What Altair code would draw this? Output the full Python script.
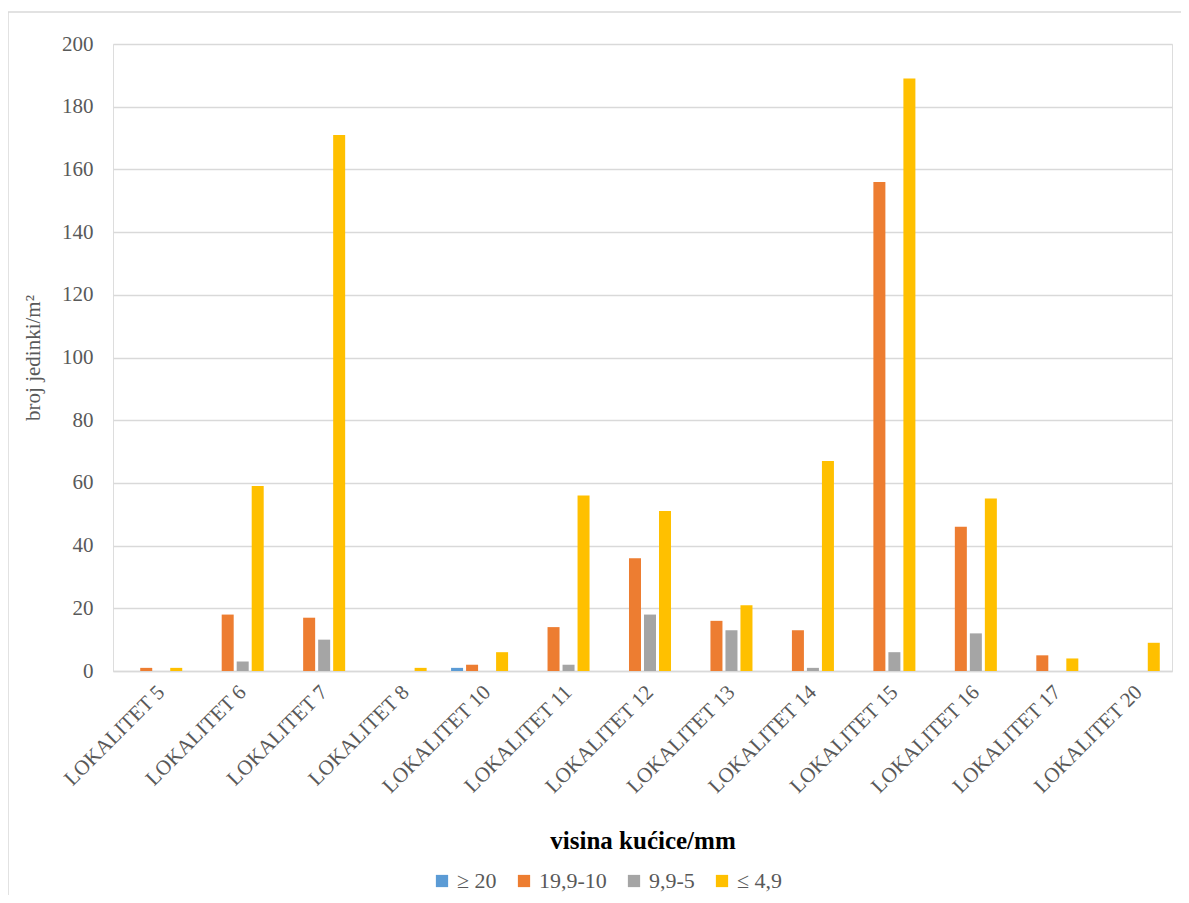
import altair as alt
import pandas as pd

categories = ["LOKALITET 5", "LOKALITET 6", "LOKALITET 7", "LOKALITET 8", "LOKALITET 10",
              "LOKALITET 11", "LOKALITET 12", "LOKALITET 13", "LOKALITET 14", "LOKALITET 15",
              "LOKALITET 16", "LOKALITET 17", "LOKALITET 20"]
series_names = ["≥ 20", "19,9-10", "9,9-5", "≤ 4,9"]
s_ge20 = [0, 0, 0, 0, 1, 0, 0, 0, 0, 0, 0, 0, 0]
s_19_10 = [1, 18, 17, 0, 2, 14, 36, 16, 13, 156, 46, 5, 0]
s_9_5 = [0, 3, 10, 0, 0, 2, 18, 13, 1, 6, 12, 0, 0]
s_le4 = [1, 59, 171, 1, 6, 56, 51, 21, 67, 189, 55, 4, 9]
colors = ["#5b9bd5", "#ed7d31", "#a5a5a5", "#ffc000"]

rows = []
for name, vals in zip(series_names, [s_ge20, s_19_10, s_9_5, s_le4]):
    for c, v in zip(categories, vals):
        rows.append({"lok": c, "serija": name, "vrijednost": v})
df = pd.DataFrame(rows)

W, H = 1059, 627
font = "'Liberation Serif', 'Times New Roman', 'DejaVu Serif', serif"

bars = alt.Chart(df).mark_bar().encode(
    x=alt.X("lok:N", sort=categories,
            scale=alt.Scale(paddingInner=0.3, paddingOuter=0.15),
            axis=alt.Axis(title="visina kućice/mm", labelAngle=-45, labelFontSize=21,
                          labelColor="#595959", labelFont=font, ticks=False,
                          domainColor="#d9d9d9", domainWidth=1.5, labelPadding=10,
                          titleFont=font, titleFontSize=25, titleFontWeight="bold",
                          titleColor="#000000", titleY=169, titleBaseline="middle")),
    xOffset=alt.XOffset("serija:N", sort=series_names,
                        scale=alt.Scale(paddingInner=0.2)),
    y=alt.Y("vrijednost:Q", scale=alt.Scale(domain=[0, 200]),
            axis=alt.Axis(title="broj jedinki/m²", values=list(range(0, 201, 20)),
                          labelFontSize=21, labelColor="#595959", labelFont=font,
                          labelPadding=20, ticks=False, domain=False,
                          gridColor="#d9d9d9", gridWidth=1.5,
                          titleFont=font, titleFontSize=21, titleFontWeight="normal",
                          titleColor="#595959", titlePadding=18)),
    color=alt.Color("serija:N", sort=series_names,
                    scale=alt.Scale(domain=series_names, range=colors),
                    legend=alt.Legend(title=None, orient="none", direction="horizontal",
                                      legendX=318, legendY=826, symbolType="square",
                                      symbolSize=150, symbolStrokeWidth=0,
                                      labelFont=font, labelFontSize=22,
                                      labelColor="#595959", columnPadding=16,
                                      labelOffset=4, symbolOpacity=1)),
)

border = alt.Chart(pd.DataFrame({"a": [0]})).mark_rect(
    fill=None, stroke="#d9d9d9", strokeWidth=1.5
).encode(x=alt.value(-105), x2=alt.value(W + 30), y=alt.value(-32), y2=alt.value(H + 240))

chart = alt.layer(border, bars).properties(
    width=W, height=H,
    autosize=alt.AutoSizeParams(type="none"),
    padding={"left": 105, "top": 36, "right": 9, "bottom": 224},
).configure_view(stroke=None).configure(background="white", font=font)

chart.save("out.html", embed_options={"renderer": "svg", "actions": False})
